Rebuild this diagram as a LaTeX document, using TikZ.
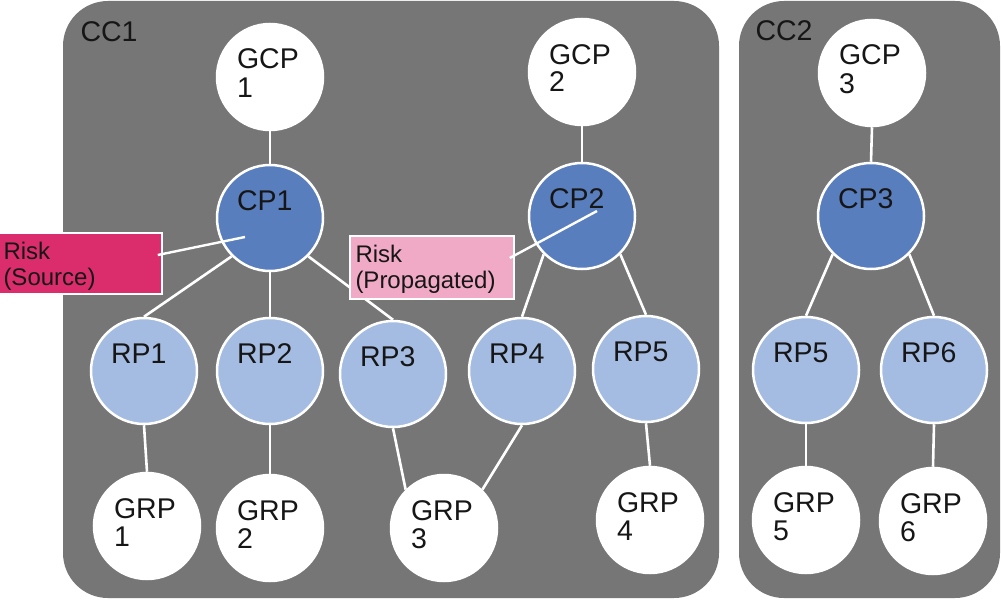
\documentclass[tikz,border=0pt]{standalone}
\usepackage{fontspec}
\setmainfont{Liberation Sans}
\usetikzlibrary{calc}
\definecolor{ccgray}{RGB}{118,118,118}
\definecolor{cpblue}{RGB}{89,126,190}
\definecolor{rpblue}{RGB}{164,188,226}
\definecolor{srcpink}{RGB}{219,45,107}
\definecolor{proppink}{RGB}{240,170,197}
\definecolor{txtcol}{RGB}{22,22,22}
\newcommand\onel[2]{\node[txt] (#1-a) at ($(#1.center)+(-33,-8)$) {#2};}
\newcommand\twol[3]{\onel{#1}{#2}\node[txt] (#1-b) at ($(#1.center)+(-33,20)$) {#3};}
\begin{document}
\begin{tikzpicture}[x=1pt,y=-1pt,
  pnode/.style={circle,draw=white,line width=2.5pt,minimum size=106pt,inner sep=0pt},
  gnode/.style={pnode,fill=white},
  cnode/.style={pnode,fill=cpblue},
  rnode/.style={pnode,fill=rpblue},
  edge/.style={draw=white,line width=2.6pt},
  txt/.style={anchor=base west,inner sep=0pt,outer sep=0pt,text=txtcol,font=\fontsize{28.5}{28}\selectfont},
  risktxt/.style={anchor=base west,inner sep=0pt,outer sep=0pt,text=txtcol,font=\fontsize{24}{26}\selectfont},
  riskbox/.style={rectangle,draw=white,line width=1.5pt,inner sep=0pt}]
\useasboundingbox (0,0) rectangle (1001,602);
\fill[white] (0,0) rectangle (1001,602);
\begin{scope}
\clip (0,0) rectangle (1001,602);
% containers
\fill[ccgray,rounded corners=45pt] (63,1) rectangle (719,598);
\fill[ccgray,rounded corners=45pt] (739,1) rectangle (1000,598);
\node[txt] (cc1) at (80.5,42) {CC1};
\node[txt] (cc2) at (755.5,41) {CC2};
% nodes
\node[gnode] (gcp1) at (270,77) {};
\node[cnode] (cp1) at (270,218) {};
\node[gnode] (gcp2) at (582,72) {};
\node[cnode] (cp2) at (582,216) {};
\node[rnode] (rp1) at (144,371) {};
\node[rnode] (rp2) at (270,371) {};
\node[rnode] (rp3) at (393,374) {};
\node[rnode] (rp4) at (522,371) {};
\node[rnode] (rp5) at (646,369) {};
\node[gnode] (grp1) at (147,526) {};
\node[gnode] (grp2) at (270,528) {};
\node[gnode] (grp3) at (444,528) {};
\node[gnode] (grp4) at (650,520) {};
\node[gnode] (gcp3) at (872,73) {};
\node[cnode] (cp3) at (871,216) {};
\node[rnode] (rp5b) at (806,370) {};
\node[rnode] (rp6) at (934,370) {};
\node[gnode] (grp5) at (806,520) {};
\node[gnode] (grp6) at (933,521) {};
% edges
\path[edge] (gcp1.south) -- (cp1.north);
\path[edge] (cp1.-135) -- (rp1.north);
\path[edge] (cp1.south) -- (rp2.north);
\path[edge] (cp1.-45) -- (rp3.north);
\path[edge] (rp1.south) -- (grp1.north);
\path[edge] (rp2.south) -- (grp2.north);
\path[edge] (rp3.south) -- (grp3.135);
\path[edge] (rp4.south) -- (grp3.45);
\path[edge] (gcp2.south) -- (cp2.north);
\path[edge] (cp2.-135) -- (rp4.north);
\path[edge] (cp2.-45) -- (rp5.north);
\path[edge] (rp5.south) -- (grp4.north);
\path[edge] (gcp3.south) -- (cp3.north);
\path[edge] (cp3.-135) -- (rp5b.north);
\path[edge] (cp3.-45) -- (rp6.north);
\path[edge] (rp5b.south) -- (grp5.north);
\path[edge] (rp6.south) -- (grp6.north);
% texts
\twol{gcp1}{GCP}{1}
\onel{cp1}{CP1}
\twol{gcp2}{GCP}{2}
\onel{cp2}{CP2}
\onel{rp1}{RP1}
\onel{rp2}{RP2}
\onel{rp3}{RP3}
\onel{rp4}{RP4}
\onel{rp5}{RP5}
\twol{grp1}{GRP}{1}
\twol{grp2}{GRP}{2}
\twol{grp3}{GRP}{3}
\twol{grp4}{GRP}{4}
\twol{gcp3}{GCP}{3}
\onel{cp3}{CP3}
\onel{rp5b}{RP5}
\onel{rp6}{RP6}
\twol{grp5}{GRP}{5}
\twol{grp6}{GRP}{6}
% risk boxes
\node[riskbox,fill=srcpink,minimum width=167pt,minimum height=61pt] (src) at (78.5,263.5) {};
\node[risktxt] (srct1) at (3.5,259) {Risk};
\node[risktxt] (srct2) at (3.5,285) {(Source)};
\node[riskbox,fill=proppink,minimum width=164pt,minimum height=63pt] (prop) at (432,267.5) {};
\node[risktxt] (propt1) at (355.5,262) {Risk};
\node[risktxt] (propt2) at (355.5,288.5) {(Propagated)};
\coordinate (srcend) at (245,237);
\coordinate (propend) at (597,211);
\draw[white,line width=2.4pt] ([xshift=-5pt,yshift=8.5pt]src.east) -- (srcend);
\draw[white,line width=2.4pt] ([xshift=-5pt,yshift=9.5pt]prop.east) -- (propend);
\end{scope}
\end{tikzpicture}
\end{document}
